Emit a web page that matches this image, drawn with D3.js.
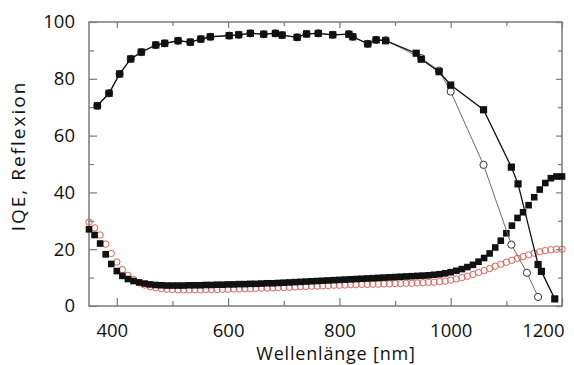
<!DOCTYPE html>
<html>
<head>
<meta charset="utf-8">
<script src="https://cdn.jsdelivr.net/npm/d3@7"></script>
<style>
  body { margin: 0; background: #fff; }
  svg { display: block; font-family: 'Open Sans', sans-serif; }
  .frame path, .frame line { stroke: #7a7a7a; }
</style>
</head>
<body>
<div id="root"></div>
<script>
// IQE, sparse points (nm)
const iqeWl = [365, 386, 405, 425, 444, 470, 486, 510, 532, 551, 568, 602, 619, 640, 664, 685, 697, 724, 741, 762, 788, 817, 824, 851, 866, 883, 938, 947, 979, 1000, 1059, 1109, 1121, 1157, 1163, 1187]
const iqeFilled = [70.5, 74.9, 81.7, 87.0, 89.4, 91.9, 92.5, 93.4, 92.9, 94.0, 94.8, 95.2, 95.5, 96.0, 95.7, 96.0, 95.4, 94.6, 95.8, 96.0, 95.5, 95.7, 94.8, 92.3, 93.7, 93.4, 89.0, 86.9, 82.5, 77.8, 69.1, 48.9, 43.0, 14.6, 12.2, 2.5]

const iqeOpenWl = [365, 386, 405, 425, 444, 470, 486, 510, 532, 551, 568, 602, 619, 640, 664, 685, 697, 724, 741, 762, 788, 817, 824, 851, 866, 883, 947, 979, 1000, 1059, 1109, 1137, 1157]
const iqeOpen = [70.5, 74.9, 81.7, 87.0, 89.4, 91.9, 92.5, 93.4, 92.9, 94.0, 94.8, 95.2, 95.5, 96.0, 95.7, 96.0, 95.4, 94.6, 95.8, 96.0, 95.5, 95.7, 94.8, 92.3, 93.7, 93.6, 87.3, 82.9, 75.5, 49.7, 21.6, 11.7, 3.2]

// Reflexion, dense points (nm)
const reflWl = [350, 360, 370, 380, 390, 400, 410, 420, 430, 440, 450, 460, 470, 480, 490, 500, 510, 520, 530, 540, 550, 560, 570, 580, 590, 600, 610, 620, 630, 640, 650, 660, 670, 680, 690, 700, 710, 720, 730, 740, 750, 760, 770, 780, 790, 800, 810, 820, 830, 840, 850, 860, 870, 880, 890, 900, 910, 920, 930, 940, 950, 960, 970, 980, 990, 1000, 1010, 1020, 1030, 1040, 1050, 1060, 1070, 1080, 1090, 1100, 1110, 1120, 1130, 1140, 1150, 1160, 1170, 1180, 1190, 1200]
const reflFilled = [27.0, 25.0, 22.0, 18.2, 14.8, 12.3, 10.6, 9.5, 8.8, 8.3, 7.9, 7.6, 7.4, 7.3, 7.2, 7.2, 7.2, 7.2, 7.3, 7.3, 7.3, 7.4, 7.4, 7.5, 7.5, 7.6, 7.6, 7.7, 7.7, 7.8, 7.8, 7.9, 8.0, 8.0, 8.1, 8.2, 8.3, 8.4, 8.5, 8.6, 8.7, 8.8, 8.9, 9.0, 9.1, 9.2, 9.3, 9.4, 9.5, 9.6, 9.7, 9.8, 9.9, 10.0, 10.1, 10.2, 10.3, 10.4, 10.5, 10.6, 10.7, 10.8, 11.0, 11.2, 11.5, 11.9, 12.4, 13.0, 13.7, 14.5, 15.6, 16.9, 18.5, 20.6, 23.0, 25.6, 28.3, 31.0, 33.0, 35.5, 38.3, 41.0, 43.3, 45.0, 45.6, 45.6]
const reflOpen = [29.5, 27.5, 25.0, 21.8, 18.5, 15.5, 12.8, 10.8, 9.3, 8.2, 7.4, 6.8, 6.4, 6.1, 5.9, 5.8, 5.7, 5.7, 5.7, 5.7, 5.7, 5.8, 5.8, 5.8, 5.9, 5.9, 6.0, 6.0, 6.1, 6.1, 6.2, 6.3, 6.3, 6.4, 6.5, 6.5, 6.6, 6.7, 6.8, 6.9, 7.0, 7.0, 7.1, 7.2, 7.3, 7.3, 7.4, 7.5, 7.5, 7.6, 7.6, 7.7, 7.7, 7.8, 7.8, 7.9, 7.9, 8.0, 8.0, 8.1, 8.2, 8.3, 8.4, 8.6, 8.8, 9.1, 9.5, 10.0, 10.5, 11.1, 11.8, 12.5, 13.2, 14.0, 14.7, 15.4, 16.1, 16.8, 17.4, 18.0, 18.6, 19.1, 19.5, 19.8, 20.0, 20.0]

const xTicks = [400, 600, 800, 1000, 1200]
const xMinor = [500, 700, 900, 1100]
const yTicks = [0, 20, 40, 60, 80, 100]
const yMinor = [10, 30, 50, 70, 90]

const width = 574
const height = 365
const margin = { top: 22, right: 12, bottom: 59, left: 89 }

const x = d3.scaleLinear().domain([ 350, 1200 ]).range([ margin.left, width - margin.right ])
const y = d3.scaleLinear().domain([ 0, 100 ]).range([ height - margin.bottom, margin.top ])

const svg = d3.select('#root').append('svg')
  .attr('width', width)
  .attr('height', height)

const zip = (xs, ys) => xs.map((d, i) => [ d, ys[i] ])

// frame ticks, all pointing inward
const frame = svg.append('g').attr('class', 'frame')
const tickAxis = (axis, tx, ty, vals, size) => frame.append('g')
  .attr('transform', 'translate(' + tx + ',' + ty + ')')
  .call(axis.tickValues(vals).tickSize(-size).tickFormat(''))
  .call(g => g.select('.domain').remove())
  .call(g => g.selectAll('line').attr('stroke-width', 1.2))

const bottom = height - margin.bottom
const right = width - margin.right
tickAxis(d3.axisBottom(x), 0, bottom, xTicks, 8)
tickAxis(d3.axisBottom(x), 0, bottom, xMinor, 5)
tickAxis(d3.axisTop(x), 0, margin.top, xTicks, 6)
tickAxis(d3.axisTop(x), 0, margin.top, xMinor, 4)
tickAxis(d3.axisLeft(y), margin.left, 0, yTicks, 8)
tickAxis(d3.axisLeft(y), margin.left, 0, yMinor, 5)
tickAxis(d3.axisRight(y), right, 0, yTicks, 6)
tickAxis(d3.axisRight(y), right, 0, yMinor, 4)

frame.append('rect')
  .attr('x', margin.left)
  .attr('y', margin.top)
  .attr('width', right - margin.left)
  .attr('height', bottom - margin.top)
  .attr('fill', 'none')
  .attr('stroke', '#7a7a7a')
  .attr('stroke-width', 1.5)

// tick labels
svg.append('g')
  .attr('transform', 'translate(0,' + bottom + ')')
  .call(d3.axisBottom(x).tickValues(xTicks).tickSize(0).tickPadding(18).tickFormat(d3.format('d')))
  .call(g => g.select('.domain').remove())
  .call(g => g.selectAll('text').attr('font-size', 18.5).attr('font-family', 'Open Sans').attr('fill', '#111'))
  .call(g => g.selectAll('.tick text').filter(d => d === 1200).attr('text-anchor', 'end').attr('x', 2))
  .call(g => g.selectAll('.tick text').filter(d => d === 400).attr('x', -5))

svg.append('g')
  .attr('transform', 'translate(' + margin.left + ',0)')
  .call(d3.axisLeft(y).tickValues(yTicks).tickSize(0).tickPadding(14))
  .call(g => g.select('.domain').remove())
  .call(g => g.selectAll('text').attr('font-size', 18.5).attr('font-family', 'Open Sans').attr('fill', '#111'))

svg.append('text')
  .attr('x', 336)
  .attr('y', 360)
  .attr('text-anchor', 'middle')
  .attr('font-size', 18)
  .attr('letter-spacing', 0.8)
  .attr('fill', '#111')
  .text('Wellenlänge [nm]')

svg.append('text')
  .attr('transform', 'rotate(-90)')
  .attr('x', -156)
  .attr('y', 25)
  .attr('text-anchor', 'middle')
  .attr('font-size', 19)
  .attr('letter-spacing', 2)
  .attr('fill', '#111')
  .text('IQE, Reflexion')

const line = d3.line().x(d => x(d[0])).y(d => y(d[1]))
const plot = svg.append('g')

// Reflexion
plot.selectAll('circle.refl')
  .data(zip(reflWl, reflOpen))
  .enter()
  .append('circle')
  .attr('class', 'refl')
  .attr('cx', d => x(d[0]))
  .attr('cy', d => y(d[1]))
  .attr('r', 3.2)
  .attr('fill', 'none')
  .attr('stroke', '#e0605a')
  .attr('stroke-width', 1)

plot.selectAll('rect.refl')
  .data(zip(reflWl, reflFilled))
  .enter()
  .append('rect')
  .attr('class', 'refl')
  .attr('x', d => x(d[0]) - 3.3)
  .attr('y', d => y(d[1]) - 3.3)
  .attr('width', 6.6)
  .attr('height', 6.6)
  .attr('fill', '#111')

// IQE
plot.append('path')
  .datum(zip(iqeOpenWl, iqeOpen))
  .attr('d', line)
  .attr('fill', 'none')
  .attr('stroke', '#6a6a6a')
  .attr('stroke-width', 1)

plot.selectAll('circle.iqe')
  .data(zip(iqeOpenWl, iqeOpen))
  .enter()
  .append('circle')
  .attr('class', 'iqe')
  .attr('cx', d => x(d[0]))
  .attr('cy', d => y(d[1]))
  .attr('r', 3.6)
  .attr('fill', '#fff')
  .attr('stroke', '#333')
  .attr('stroke-width', 1)

plot.append('path')
  .datum(zip(iqeWl, iqeFilled))
  .attr('d', line)
  .attr('fill', 'none')
  .attr('stroke', '#111')
  .attr('stroke-width', 1.3)

plot.selectAll('rect.iqe')
  .data(zip(iqeWl, iqeFilled))
  .enter()
  .append('rect')
  .attr('class', 'iqe')
  .attr('x', d => x(d[0]) - 3.6)
  .attr('y', d => y(d[1]) - 3.6)
  .attr('width', 7.2)
  .attr('height', 7.2)
  .attr('fill', '#111')
</script>
</body>
</html>
